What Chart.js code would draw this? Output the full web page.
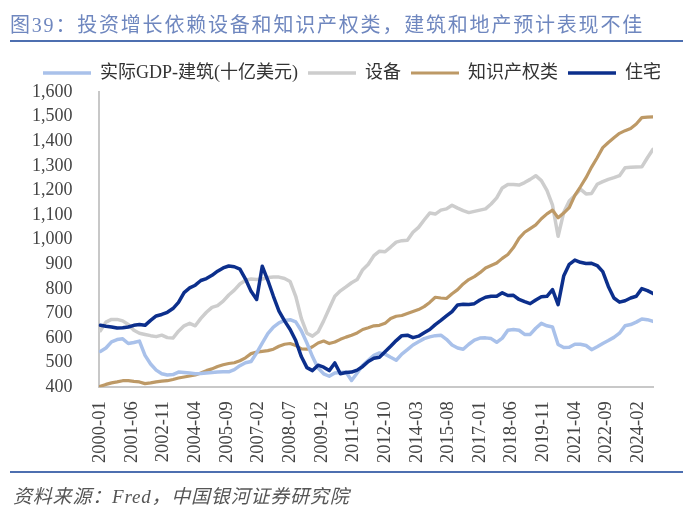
<!DOCTYPE html>
<html>
<head>
<meta charset="utf-8">
<script src="https://cdn.jsdelivr.net/npm/chart.js@4.4.1/dist/chart.umd.min.js"></script>
<style>
  html, body { margin: 0; padding: 0; background: #fff; }
  #wrap { position: relative; width: 700px; height: 515px; overflow: hidden; }
  #title { position: absolute; left: 10px; top: 9px; font: 20px 'Liberation Serif', 'Noto Sans CJK SC', serif; color: #6f87bf; letter-spacing: 1.8px; white-space: nowrap; }
  .rule { position: absolute; left: 10px; width: 673px; height: 2px; background: #4d6fb0; }
  #source { position: absolute; left: 13px; top: 481px; font: italic 19px 'Liberation Serif', 'Noto Sans CJK SC', serif; color: #555; letter-spacing: 0.8px; white-space: nowrap; }
  canvas { position: absolute; left: 0; top: 0; }
</style>
</head>
<body>
<div id="wrap">
  <canvas id="chart" width="700" height="515"></canvas>
  <div id="title">图39：投资增长依赖设备和知识产权类，建筑和地产预计表现不佳</div>
  <div class="rule" style="top:40px"></div>
  <div class="rule" style="top:471px"></div>
  <div id="source">资料来源：Fred，中国银河证券研究院</div>
</div>
<script>
// 季度数据点 (2000-01 起, 每3个月一个)
const dates = [];
for (let i = 0; i < 100; i++) {
  const m = i * 3;
  dates.push((2000 + Math.floor(m / 12)) + '-' + String(m % 12 + 1).padStart(2, '0'));
}

const tickLabels = ['2000-01', '2001-06', '2002-11', '2004-04', '2005-09', '2007-02', '2008-07', '2009-12', '2011-05',
  '2012-10', '2014-03', '2015-08', '2017-01', '2018-06', '2019-11', '2021-04', '2022-09', '2024-02'];

const gdpConstruction = [546, 560, 585, 594, 597, 578, 582, 588, 530, 495, 470, 455, 450, 452, 462, 460, 458, 455, 456, 458,
  460, 462, 463, 463, 472, 488, 500, 505, 540, 580, 618, 645, 662, 672, 675, 666, 630, 580, 525, 478,
  455, 445, 458, 460, 462, 428, 458, 490, 510, 530, 540, 535, 522, 510, 535, 553, 572, 585, 598, 605,
  610, 612, 595, 572, 560, 555, 575, 592, 600, 601, 598, 583, 600, 632, 635, 632, 615, 615, 640, 660,
  650, 645, 574, 562, 563, 575, 575, 570, 553, 565, 578, 590, 603, 620, 650, 655, 665, 678, 675, 668];

const equipment = [630, 665, 676, 676, 670, 655, 632, 620, 615, 610, 606, 612, 602, 600, 628, 650, 660, 650, 680, 705,
  725, 732, 750, 775, 795, 820, 835, 840, 838, 840, 846, 848, 848, 842, 830, 770, 680, 620, 608, 625,
  670, 720, 770, 792, 808, 825, 838, 878, 900, 935, 953, 951, 970, 990, 996, 998, 1030, 1050, 1080, 1108,
  1104, 1120, 1125, 1140, 1128, 1118, 1110, 1115, 1120, 1125, 1145, 1170, 1210, 1224, 1224, 1222, 1232, 1245, 1260, 1240,
  1200, 1140, 1014, 1110, 1157, 1180, 1205, 1186, 1188, 1225, 1236, 1245, 1252, 1260, 1292, 1294, 1295, 1296, 1333, 1367];

const ipProducts = [404, 412, 418, 422, 427, 427, 424, 422, 415, 418, 422, 425, 427, 432, 438, 442, 446, 450, 458, 468,
  475, 485, 492, 497, 500, 508, 520, 537, 543, 546, 549, 555, 567, 575, 578, 570, 556, 555, 565, 580,
  588, 578, 584, 595, 604, 612, 621, 635, 642, 650, 652, 660, 680, 689, 692, 700, 708, 716, 728, 745,
  766, 763, 761, 780, 797, 820, 838, 850, 866, 885, 895, 905, 924, 940, 968, 1005, 1030, 1045, 1060, 1085,
  1105, 1120, 1089, 1108, 1130, 1180, 1215, 1252, 1295, 1333, 1374, 1395, 1414, 1432, 1443, 1452, 1470, 1496, 1498, 1499];

const housing = [652, 648, 645, 641, 642, 645, 652, 655, 652, 672, 690, 696, 705, 720, 745, 785, 804, 815, 834, 842,
  855, 872, 885, 893, 890, 880, 840, 790, 757, 892, 835, 770, 710, 670, 635, 590, 525, 480, 468, 490,
  482, 468, 499, 455, 460, 462, 470, 485, 505, 518, 522, 545, 567, 590, 610, 612, 602, 608, 622, 635,
  655, 672, 690, 708, 735, 738, 737, 740, 755, 766, 770, 770, 784, 773, 774, 757, 748, 740, 755, 768,
  770, 797, 736, 852, 900, 917, 908, 903, 904, 895, 870, 810, 763, 746, 752, 763, 770, 801, 793, 781];

function monthIndex(s) {
  const [y, m] = s.split('-').map(Number);
  return (y - 2000) * 12 + (m - 1);
}

function pts(values) {
  return values.map((v, i) => ({ x: monthIndex(dates[i]), y: v }));
}

const fontFamily = "'Liberation Serif', 'Noto Sans CJK SC', serif";

// 图例居中于整张图, 而不是绘图区
const centerLegend = {
  id: 'centerLegend',
  afterLayout(chart) {
    const lg = chart.legend;
    const shift = chart.width / 2 + 2 - (lg.left + lg.right) / 2;
    lg.left += shift;
    lg.right += shift;
  }
};

new Chart(document.getElementById('chart'), {
  type: 'line',
  data: {
    datasets: [
      { label: '实际GDP-建筑(十亿美元)', data: pts(gdpConstruction), borderColor: '#a9c1ea', backgroundColor: '#a9c1ea', borderWidth: 3.5, order: 1 },
      { label: '设备', data: pts(equipment), borderColor: '#cdcdcd', backgroundColor: '#cdcdcd', borderWidth: 3.5, order: 3 },
      { label: '知识产权类', data: pts(ipProducts), borderColor: '#bd9966', backgroundColor: '#bd9966', borderWidth: 3.2, order: 2 },
      { label: '住宅', data: pts(housing), borderColor: '#0c2f8c', backgroundColor: '#0c2f8c', borderWidth: 3.5, order: 0 }
    ]
  },
  options: {
    responsive: false,
    animation: false,
    elements: { point: { radius: 0 }, line: { tension: 0, borderCapStyle: 'round', borderJoinStyle: 'round' } },
    layout: { padding: { top: 54, left: 0, right: 47, bottom: 46 } },
    plugins: {
      legend: {
        position: 'top',
        labels: {
          usePointStyle: true, pointStyle: 'line', pointStyleWidth: 48,
          font: { family: fontFamily, size: 18 }, color: '#333', padding: 10,
          sort: (a, b) => a.datasetIndex - b.datasetIndex
        }
      },
      tooltip: { enabled: false }
    },
    scales: {
      x: {
        type: 'linear', min: -1, max: 297,
        grid: { display: false },
        border: { display: true, color: '#c8c8c8', width: 2 },
        afterBuildTicks: (scale) => { scale.ticks = tickLabels.map(t => ({ value: monthIndex(t) })); },
        ticks: {
          autoSkip: false, minRotation: 90, maxRotation: 90, padding: 6,
          color: '#444', font: { family: fontFamily, size: 18.5 },
          callback: (v) => tickLabels.find(t => monthIndex(t) === v) || ''
        }
      },
      y: {
        min: 400, max: 1600,
        grid: { display: false },
        border: { display: true, color: '#c8c8c8', width: 2 },
        afterFit: (scale) => { scale.width += 14; },
        ticks: {
          autoSkip: false, stepSize: 100, padding: 18, color: '#444', font: { family: fontFamily, size: 18 },
          callback: (v) => v.toLocaleString('en-US')
        }
      }
    }
  },
  plugins: [centerLegend]
});
</script>
</body>
</html>
